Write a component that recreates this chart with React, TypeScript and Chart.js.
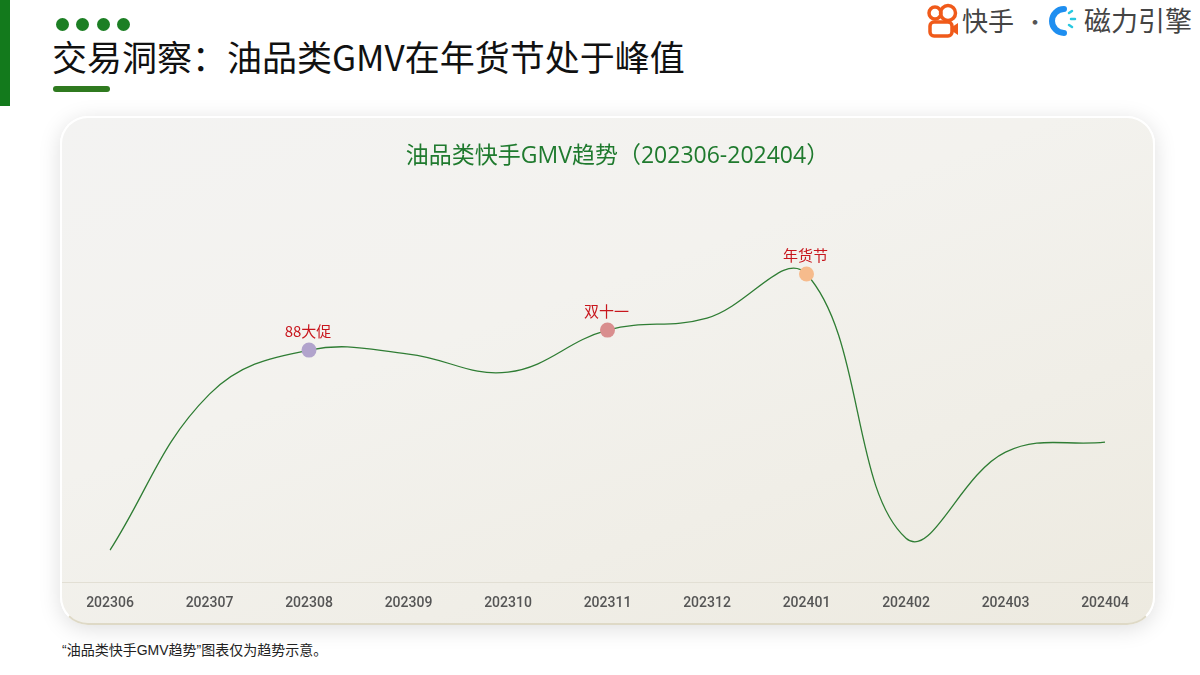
import React, { useEffect, useRef } from "react";
import { Chart, registerables } from "chart.js";

Chart.register(...registerables);

const months = ["202306", "202307", "202308", "202309", "202310", "202311", "202312", "202401", "202402", "202403", "202404"];
const gmvIndex = [8, 47, 58, 57, 52.5, 63, 66, 77, 11, 32.5, 35];
const eventNames = ["", "", "88大促", "", "", "双十一", "", "年货节", "", "", ""];
const chartTitle = "油品类快手GMV趋势（202306-202404）";

const eventDotColor: Record<string, string> = {
  "88大促": "#b1a3cc",
  "双十一": "#d98e8e",
  "年货节": "#f6bb8c",
};

const CJK = '"Noto Sans CJK SC", "Noto Sans", sans-serif';

const eventLabelPlugin = {
  id: "eventLabels",
  afterDatasetsDraw(chart: any) {
    const ctx = chart.ctx;
    const meta = chart.getDatasetMeta(0);
    ctx.save();
    ctx.font = `15px ${CJK}`;
    ctx.fillStyle = "#c8161d";
    ctx.textAlign = "center";
    ctx.textBaseline = "middle";
    meta.data.forEach((pt: any, i: number) => {
      if (eventNames[i]) ctx.fillText(eventNames[i], pt.x - 1, pt.y - 19);
    });
    ctx.restore();
  },
};

const titlePlugin = {
  id: "offsetTitle",
  afterDraw(chart: any) {
    const ctx = chart.ctx;
    ctx.save();
    ctx.font = `23px "Open Sans", "Noto Sans CJK SC", sans-serif`;
    ctx.fillStyle = "#1f7a2e";
    ctx.textAlign = "center";
    ctx.textBaseline = "middle";
    ctx.fillText(chartTitle, chart.width / 2 + 10, 40);
    ctx.restore();
  },
};

function TrendChart() {
  const ref = useRef<HTMLCanvasElement | null>(null);
  useEffect(() => {
    if (!ref.current) return;
    const chart = new Chart(ref.current, {
      type: "line",
      data: {
        labels: months,
        datasets: [
          {
            data: gmvIndex,
            borderColor: "#2f7d34",
            borderWidth: 1.3,
            tension: 0.4,
            fill: false,
            pointRadius: eventNames.map((n) => (n ? 7.5 : 0)),
            pointHoverRadius: eventNames.map((n) => (n ? 7.5 : 0)),
            pointBackgroundColor: eventNames.map((n) => eventDotColor[n] || "transparent"),
            pointBorderWidth: 0,
          },
        ],
      },
      options: {
        animation: false,
        responsive: true,
        maintainAspectRatio: false,
        layout: { padding: { left: 50, right: 50, top: 66, bottom: 8 } },
        plugins: {
          legend: { display: false },
          tooltip: { enabled: false },
          title: { display: false },
        },
        scales: {
          x: {
            offset: false,
            grid: { display: false },
            border: { display: false },
            ticks: {
              color: "#555555",
              padding: 5,
              maxRotation: 0,
              autoSkip: false,
              font: { family: 'Roboto, "Liberation Sans", Arial, sans-serif', size: 14, weight: "500" as any },
            },
          },
          y: {
            display: false,
            min: 0,
            max: 100,
          },
        },
      },
      plugins: [eventLabelPlugin, titlePlugin],
    });
    return () => chart.destroy();
  }, []);
  return <canvas ref={ref} />;
}

export default function App() {
  return (
    <div
      style={{
        position: "fixed",
        left: 0,
        top: 0,
        width: 1200,
        height: 675,
        background: "#ffffff",
        overflow: "hidden",
        fontFamily: CJK,
      }}
    >
      {/* left accent bar */}
      <div style={{ position: "absolute", left: 0, top: 0, width: 10, height: 106, background: "#137a1c" }} />
      {/* four dots */}
      {[62, 82, 103, 123].map((x) => (
        <div
          key={x}
          style={{
            position: "absolute",
            left: x - 6.5,
            top: 24 - 6.5,
            width: 13,
            height: 13,
            borderRadius: "50%",
            background: "#1c7f24",
          }}
        />
      ))}
      {/* page title */}
      <div
        style={{
          position: "absolute",
          left: 52,
          top: 34,
          fontSize: 35,
          lineHeight: "44px",
          color: "#111",
          whiteSpace: "nowrap",
          fontFamily: CJK,
        }}
      >
        交易洞察：油品类GMV在年货节处于峰值
      </div>
      <div style={{ position: "absolute", left: 53, top: 86, width: 57, height: 6, borderRadius: 3, background: "#2f7a1f" }} />

      {/* logo */}
      <svg style={{ position: "absolute", left: 925, top: 3 }} width={36} height={36} viewBox="0 0 36 36">
        <circle cx={10} cy={10} r={6} fill="none" stroke="#f05a1a" strokeWidth={3.5} />
        <circle cx={23} cy={10} r={7.5} fill="none" stroke="#f05a1a" strokeWidth={3.5} />
        <rect x={5} y={19} width={22} height={14} rx={4} fill="none" stroke="#f05a1a" strokeWidth={3.5} />
        <path d="M27 24 L33 20 L33 32 L27 28 Z" fill="#f05a1a" />
      </svg>
      <div style={{ position: "absolute", left: 962, top: 4, fontSize: 26, lineHeight: "32px", color: "#444", fontFamily: CJK }}>快手</div>
      <div style={{ position: "absolute", left: 1024, top: 4, fontSize: 22, lineHeight: "32px", color: "#555", fontFamily: CJK }}>·</div>
      <svg style={{ position: "absolute", left: 1042, top: 4 }} width={38} height={34} viewBox="0 0 38 34">
        <path d="M22 5 A12 12 0 1 0 22 29" fill="none" stroke="#1e8ef0" strokeWidth={6} strokeLinecap="round" />
        <path d="M27 9 L30 7" stroke="#28c8e0" strokeWidth={2.5} strokeLinecap="round" />
        <path d="M29 15 L33 15" stroke="#28c8e0" strokeWidth={2.5} strokeLinecap="round" />
        <path d="M27 21 L30 23" stroke="#28c8e0" strokeWidth={2.5} strokeLinecap="round" />
      </svg>
      <div style={{ position: "absolute", left: 1084, top: 4, fontSize: 27, lineHeight: "32px", color: "#444", fontFamily: CJK, whiteSpace: "nowrap" }}>
        磁力引擎
      </div>

      {/* card */}
      <div
        style={{
          position: "absolute",
          left: 60,
          top: 116,
          width: 1095,
          height: 509,
          boxSizing: "border-box",
          borderRadius: 28,
          border: "2px solid #ffffff",
          borderBottomColor: "#ded9c6",
          background: "linear-gradient(160deg, #f3f3f2 0%, #f3f2ee 40%, #edeae0 100%)",
          boxShadow: "0 4px 22px rgba(0,0,0,0.13)",
          overflow: "hidden",
        }}
      >
        <div style={{ position: "absolute", left: 0, right: 0, top: 464, height: 1, background: "#e2dfd4" }} />
      </div>
      <div style={{ position: "absolute", left: 60, top: 116, width: 1095, height: 509 }}>
        <TrendChart />
      </div>

      {/* footnote */}
      <div
        style={{
          position: "absolute",
          left: 62,
          top: 640,
          fontSize: 14,
          lineHeight: "20px",
          color: "#222",
          whiteSpace: "nowrap",
          fontFamily: '"Liberation Sans", "Noto Sans CJK SC", sans-serif',
        }}
      >
        “油品类快手GMV趋势”图表仅为趋势示意。
      </div>
    </div>
  );
}
